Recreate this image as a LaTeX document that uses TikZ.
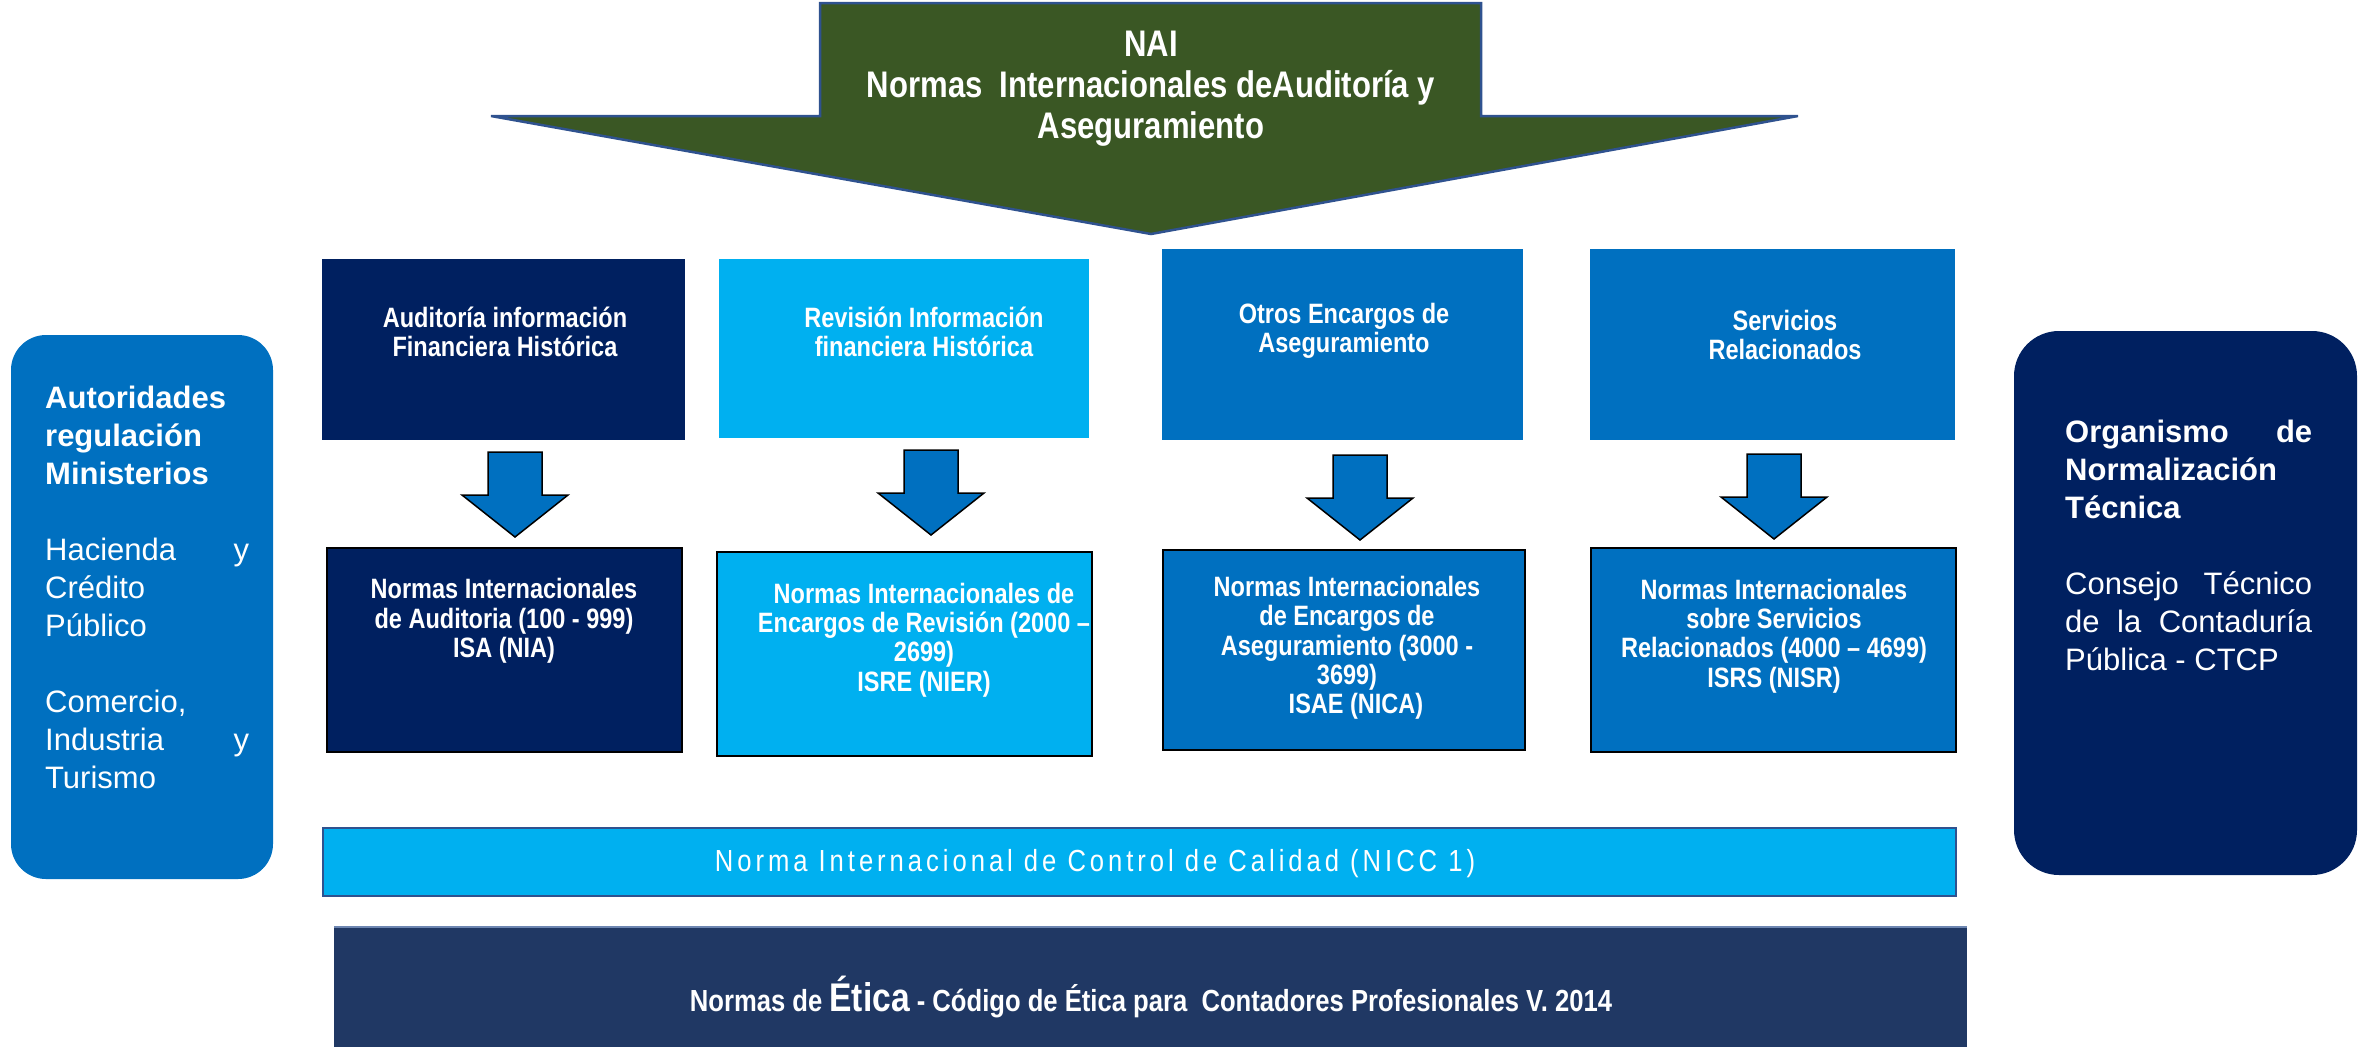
\documentclass[tikz,border=0pt]{standalone}
\usepackage{fontspec}
\setmainfont{Liberation Sans}
\newfontfamily\nar[FakeStretch=0.84]{Liberation Sans}
\newfontfamily\niccf[FakeStretch=0.84,LetterSpace=13]{Liberation Sans}
\definecolor{navy}{HTML}{002060}
\definecolor{sky}{HTML}{00B0F0}
\definecolor{mid}{HTML}{0070C0}
\definecolor{olive}{HTML}{3A5724}
\definecolor{edgeblue}{HTML}{2F528F}
\definecolor{ethica}{HTML}{203864}
\newcommand\blockarrow[2]{%
  \draw[fill=mid,draw=black,line width=1.5pt,line join=miter]
    ({#1-27},{#2}) -- ({#1+27},{#2}) -- ({#1+27},{#2+43}) -- ({#1+53},{#2+43})
    -- ({#1},{#2+85}) -- ({#1-53},{#2+43}) -- ({#1-27},{#2+43}) -- cycle;}
\begin{document}
\begin{tikzpicture}[x=1pt,y=-1pt,
  boxtxt/.style={text=white,align=center,inner sep=0pt,font=\nar\bfseries\fontsize{28}{29.3}\selectfont},
  arrowtxt/.style={text=white,align=center,inner sep=0pt,font=\nar\bfseries\fontsize{37}{41}\selectfont},
  sidetxt/.style={text=white,anchor=north west,inner sep=0pt,align=left,font=\fontsize{31}{38}\selectfont}]
\useasboundingbox (0,0) rectangle (2369,1047);
% top arrow
\draw[fill=olive,draw=edgeblue,line width=2.5pt,line join=miter]
  (820,3) -- (1481,3) -- (1481,116) -- (1798,116) -- (1151,234) -- (491,116) -- (820,116) -- cycle;
\node[arrowtxt] (nai) at (1151,89) {NAI\\Normas\ \ Internacionales deAuditoría y\\Aseguramiento};
% side boxes
\fill[mid,rounded corners=35pt] (11,335) rectangle (273,879);
\node[sidetxt] (lt) at (45,386) {\textbf{Autoridades}\\\textbf{regulación}\\\textbf{Ministerios}\\[38pt]\makebox[204pt][s]{Hacienda y}\\Crédito\\Público\\[38pt]Comercio,\\\makebox[204pt][s]{Industria y}\\Turismo};
\fill[navy,rounded corners=45pt] (2014,331) rectangle (2357,875);
\node[sidetxt] (rt) at (2065,420) {\textbf{\makebox[247pt][s]{Organismo de}}\\\textbf{Normalización}\\\textbf{Técnica}\\[38pt]\makebox[247pt][s]{Consejo Técnico}\\\makebox[247pt][s]{de la Contaduría}\\Pública - CTCP};
% top row
\fill[navy] (322,259) rectangle (685,440);
\fill[sky]  (719,259) rectangle (1089,438);
\fill[mid]  (1162,249) rectangle (1523,440);
\fill[mid]  (1590,249) rectangle (1955,440);
\node[boxtxt] (b1) at (505,332) {Auditoría información\\Financiera Histórica};
\node[boxtxt] (b2) at (924,332) {Revisión Información\\financiera Histórica};
\node[boxtxt] (b3) at (1344,331) {Otros Encargos de\\Aseguramiento};
\node[boxtxt] (b4) at (1785,335) {Servicios\\Relacionados};
% block arrows
\blockarrow{515}{452}
\blockarrow{931}{450}
\blockarrow{1360}{455}
\blockarrow{1774}{454}
% bottom row
\draw[fill=navy,draw=black,line width=1.5pt] (327,548) rectangle (682,752);
\draw[fill=sky,draw=black,line width=1.5pt] (717,552) rectangle (1092,756);
\draw[fill=mid,draw=black,line width=1.5pt] (1163,550) rectangle (1525,750);
\draw[fill=mid,draw=black,line width=1.5pt] (1591,548) rectangle (1956,752);
\node[boxtxt] (c1) at (504,621) {Normas Internacionales\\de Auditoria (100 - 999)\\ISA (NIA)};
\node[boxtxt] (c2) at (924,640) {Normas Internacionales de\\Encargos de Revisión (2000 –\\2699)\\ISRE (NIER)};
\node[boxtxt] (c3) at (1347,648) {Normas Internacionales\\de Encargos de\\Aseguramiento (3000 -\\3699)\\\hspace*{18pt}ISAE (NICA)};
\node[boxtxt] (c4) at (1774,636) {Normas Internacionales\\sobre Servicios\\Relacionados (4000 – 4699)\\ISRS (NISR)};
% NICC bar
\draw[fill=sky,draw=edgeblue,line width=2.5pt] (323,828) rectangle (1956,896);
\node[text=white,inner sep=0pt,font=\niccf\fontsize{30.5}{32}\selectfont] (nicc) at (1095,864) {Norma Internacional de Control de Calidad (NICC 1)};
% Etica bar
\fill[ethica] (334,926) rectangle (1967,1047);
\draw[edgeblue!70!white,line width=2pt] (334,927) -- (1967,927);
\node[text=white,inner sep=0pt,font=\nar\bfseries\fontsize{30.5}{32}\selectfont] (etica) at (1151,997) {Normas de {\fontsize{40}{40}\selectfont Ética} - Código de Ética para\ \ Contadores Profesionales V. 2014};
\end{tikzpicture}
\end{document}
